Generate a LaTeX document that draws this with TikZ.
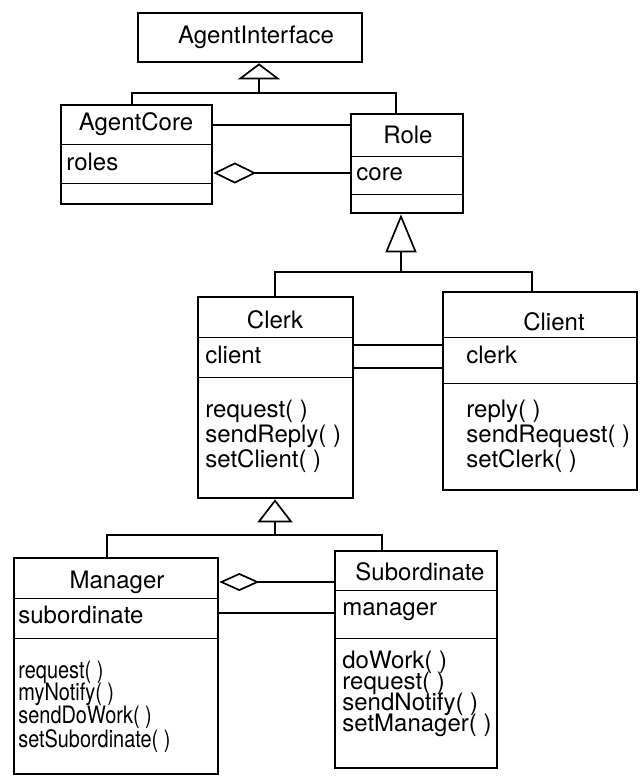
\documentclass[tikz,border=0pt]{standalone}
\usepackage{fontspec}
\setmainfont{TeX Gyre Heros}
\newfontfamily\narrowfont[FakeStretch=0.83]{TeX Gyre Heros}
\usetikzlibrary{arrows.meta,fit}

\tikzset{
  classbox/.style={draw, line width=1.3pt, inner sep=0pt},
  divider/.style={line width=0.5pt},
  link/.style={line width=0.85pt},
  title/.style={anchor=base, inner sep=0pt, font=\fontsize{12}{14}\selectfont},
  member/.style={anchor=base west, inner sep=0pt, font=\fontsize{12}{14}\selectfont},
  smallop/.style={member, font=\narrowfont\fontsize{12}{14}\selectfont},
  inherit/.style={-{Triangle[open,#1]}},
  holds/.style={{Diamond[open,#1]}-},
}

\begin{document}
\begin{tikzpicture}[x=0.5pt,y=-0.5pt]
\useasboundingbox (0,0) rectangle (639,776);

% class boxes
\node[classbox, fit={(138,13) (362,62)}] (ai) {};
\node[classbox, fit={(61,105) (212,204)}] (agentcore) {};
\node[classbox, fit={(351,114) (463,213)}] (role) {};
\node[classbox, fit={(198,297) (353,498)}] (clerk) {};
\node[classbox, fit={(443,292) (637,490)}] (client) {};
\node[classbox, fit={(14,558) (218,774)}] (manager) {};
\node[classbox, fit={(335,551) (497,768)}] (subord) {};

% compartments
\foreach \cls/\y in {agentcore/144, agentcore/183, role/156, role/194,
                     clerk/337, clerk/377, client/337, client/383,
                     manager/598, manager/638, subord/590, subord/638}
  \draw[divider] (\cls.west |- 0,\y) -- (\cls.east |- 0,\y);

% names, attributes, operations
\node[title] (ai-name) at (256,43) {AgentInterface};

\node[title] (agentcore-name) at (136,130) {AgentCore};
\node[member] (agentcore-attr) at (66,170) {roles};

\node[title] (role-name) at (408,143) {Role};
\node[member] (role-attr) at (356,180) {core};

\node[title] (clerk-name) at (275,328) {Clerk};
\node[member] (clerk-attr) at (205,363) {client};
\node[member] (clerk-op1) at (205,417) {request( )};
\node[member] (clerk-op2) at (205,442) {sendReply( )};
\node[member] (clerk-op3) at (205,467) {setClient( )};

\node[title] (client-name) at (554,330) {Client};
\node[member] (client-attr) at (466,363) {clerk};
\node[member] (client-op1) at (466,417) {reply( )};
\node[member] (client-op2) at (466,442) {sendRequest( )};
\node[member] (client-op3) at (466,467) {setClerk( )};

\node[title] (manager-name) at (117,588) {Manager};
\node[member] (manager-attr) at (18,623) {subordinate};
\node[smallop] (manager-op1) at (18,678) {request( )};
\node[smallop] (manager-op2) at (18,700) {myNotify( )};
\node[smallop] (manager-op3) at (18,723) {sendDoWork( )};
\node[smallop] (manager-op4) at (18,747) {setSubordinate( )};

\node[title] (subord-name) at (420,580) {Subordinate};
\node[member] (subord-attr) at (342,615) {manager};
\node[member] (subord-op1) at (342,668) {doWork( )};
\node[member] (subord-op2) at (342,689) {request( )};
\node[member] (subord-op3) at (342,710) {sendNotify( )};
\node[member] (subord-op4) at (342,731) {setManager( )};

% generalisation trees
\coordinate (ai-fork) at (259,93);
\draw[link] (agentcore.north -| 132,0) |- (ai-fork) -| (role.north -| 396,0);
\draw[link, inherit={length=8pt,width=21pt}] (ai-fork) -- (ai.south -| ai-fork);

\coordinate (role-fork) at (401,272);
\draw[link] (clerk.north -| 275,0) |- (role-fork) -| (client.north -| 532,0);
\draw[link, inherit={length=19pt,width=15.5pt}] (role-fork) -- (role.south -| role-fork);

\coordinate (clerk-fork) at (275,535);
\draw[link] (manager.north -| 107,0) |- (clerk-fork) -| (subord.north -| 382,0);
\draw[link, inherit={length=11.5pt,width=17.5pt}] (clerk-fork) -- (clerk.south -| clerk-fork);

% associations and aggregations
\draw[link] (agentcore.east |- 0,125) -- (role.west |- 0,125);
\draw[link, holds={length=21.5pt,width=10.5pt}] (agentcore.east |- 0,173) -- (role.west |- 0,173);
\draw[link] (clerk.east |- 0,345) -- (client.west |- 0,345);
\draw[link] (clerk.east |- 0,368) -- (client.west |- 0,368);
\draw[link, holds={length=20pt,width=9pt}] (manager.east |- 0,582) -- (subord.west |- 0,582);
\draw[link] (manager.east |- 0,613) -- (subord.west |- 0,613);
\end{tikzpicture}
\end{document}
